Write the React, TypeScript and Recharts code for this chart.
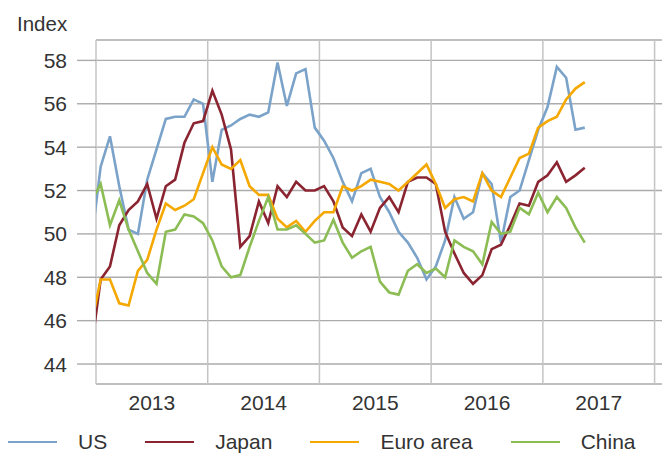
import React from 'react';
import { LineChart, Line, XAxis, YAxis, CartesianGrid, ReferenceLine, Legend } from 'recharts';

const FONT = '"Liberation Sans", Arial, sans-serif';
const TEXT = '#333333';

// Monthly observations, Dec 2012 ... May 2017
const START_YEAR = 2012;
const START_MONTH = 12;

const us = [49.6, 53.1, 54.5, 52.2, 50.2, 50.0, 52.5, 53.9, 55.3, 55.4, 55.4, 56.2, 56.0, 52.4, 54.8, 55.0, 55.3, 55.5, 55.4, 55.6, 57.9, 55.9, 57.4, 57.6, 54.9, 54.3, 53.5, 52.4, 51.5, 52.8, 53.0, 51.7, 51.0, 50.1, 49.6, 48.9, 47.9, 48.5, 49.7, 51.7, 50.7, 51.0, 52.8, 52.3, 49.6, 51.7, 52.0, 53.4, 54.8, 55.85, 57.7, 57.2, 54.8, 54.9];
const japan = [44.7, 47.9, 48.5, 50.4, 51.1, 51.5, 52.3, 50.7, 52.2, 52.5, 54.2, 55.1, 55.2, 56.6, 55.5, 53.9, 49.4, 49.9, 51.5, 50.5, 52.2, 51.7, 52.4, 52.0, 52.0, 52.2, 51.5, 50.3, 49.9, 50.9, 50.1, 51.2, 51.7, 51.0, 52.4, 52.6, 52.6, 52.3, 50.1, 49.1, 48.2, 47.7, 48.1, 49.3, 49.5, 50.4, 51.4, 51.3, 52.4, 52.7, 53.3, 52.4, 52.7, 53.05];
const euroArea = [45.8, 47.9, 47.9, 46.8, 46.7, 48.3, 48.8, 50.2, 51.4, 51.1, 51.3, 51.6, 52.8, 54.0, 53.2, 53.0, 53.4, 52.2, 51.8, 51.8, 50.7, 50.3, 50.6, 50.1, 50.6, 51.0, 51.0, 52.2, 52.0, 52.2, 52.5, 52.4, 52.3, 52.0, 52.4, 52.8, 53.2, 52.3, 51.2, 51.6, 51.7, 51.5, 52.8, 52.0, 51.7, 52.6, 53.5, 53.7, 54.9, 55.2, 55.4, 56.2, 56.7, 57.0];
const china = [51.5, 52.3, 50.4, 51.55, 50.2, 49.2, 48.2, 47.7, 50.1, 50.2, 50.9, 50.8, 50.5, 49.7, 48.5, 48.0, 48.1, 49.4, 50.6, 51.7, 50.2, 50.2, 50.4, 50.0, 49.6, 49.7, 50.65, 49.6, 48.9, 49.2, 49.4, 47.8, 47.3, 47.2, 48.3, 48.6, 48.2, 48.4, 48.0, 49.7, 49.4, 49.2, 48.6, 50.55, 50.0, 50.1, 51.2, 50.9, 51.9, 51.0, 51.7, 51.2, 50.3, 49.6];

const yearLabels = [2013, 2014, 2015, 2016, 2017];
const yearBoundaries = [2013, 2014, 2015, 2016, 2017, 2018];
const yTicks = [44, 46, 48, 50, 52, 54, 56, 58];

const seriesList = [
  { key: 'us', name: 'US', color: '#7ba3c9', values: us },
  { key: 'japan', name: 'Japan', color: '#8b2431', values: japan },
  { key: 'euro', name: 'Euro area', color: '#f5a800', values: euroArea },
  { key: 'china', name: 'China', color: '#8cbd55', values: china },
];

const data = us.map((_, i) => {
  const total = START_YEAR * 12 + (START_MONTH - 1) + i;
  const year = Math.floor(total / 12);
  const month = (total % 12) + 1;
  const row: Record<string, number | string> = {
    month: `${year}-${String(month).padStart(2, '0')}`,
    t: year + (month - 0.5) / 12,
  };
  seriesList.forEach((s) => {
    row[s.key] = s.values[i];
  });
  return row;
});

const renderLegend = () => (
  <div
    style={{
      display: 'flex',
      alignItems: 'center',
      height: 26,
      width: 662,
      fontFamily: FONT,
      fontSize: 21,
      color: TEXT,
      whiteSpace: 'nowrap',
    }}
  >
    {seriesList.map((s) => (
      <div key={s.key} style={{ display: 'flex', alignItems: 'center', marginRight: 38, flex: 'none' }}>
        <span
          style={{ display: 'inline-block', width: 49, height: 0, borderTop: `2.5px solid ${s.color}`, marginRight: 21 }}
        />
        <span>{s.name}</span>
      </div>
    ))}
  </div>
);

const IndexLabel = (props: any) => {
  const vb = props.viewBox || { x: 0, y: 32 };
  return (
    <text x={vb.x + 9} y={vb.y - 9} fill={TEXT} fontSize={20.5} fontFamily={FONT}>
      Index
    </text>
  );
};

export default function App() {
  return (
    <LineChart width={662} height={445} data={data} margin={{ top: 32, right: 0, bottom: 0, left: 0 }}>
      <CartesianGrid vertical={false} stroke="#ababab" strokeWidth={1.4} />
      {yearBoundaries.map((y) => (
        <ReferenceLine key={y} x={y} stroke="#c4c4c4" strokeWidth={1.5} />
      ))}
      <XAxis
        dataKey="t"
        type="number"
        domain={[2013, 2018.138]}
        allowDataOverflow
        ticks={yearLabels.map((y) => y + 0.5)}
        tickFormatter={(v: number) => String(Math.floor(v))}
        axisLine={false}
        tickLine={false}
        tickSize={0}
        tickMargin={11}
        height={43}
        tick={{ fill: TEXT, fontSize: 21, fontFamily: FONT }}
      />
      <YAxis
        type="number"
        domain={[43.08, 58.94]}
        allowDataOverflow
        ticks={yTicks}
        width={88}
        axisLine={false}
        tickLine={{ stroke: '#ababab', strokeWidth: 1.4 }}
        tickSize={19}
        tickMargin={10}
        tick={{ fill: TEXT, fontSize: 21, fontFamily: FONT }}
        label={{ content: IndexLabel }}
      />
      <Legend content={renderLegend} wrapperStyle={{ left: 0, top: 421, width: 662 }} />
      {seriesList.map((s) => (
        <Line
          key={s.key}
          dataKey={s.key}
          name={s.name}
          stroke={s.color}
          strokeWidth={2.6}
          dot={false}
          activeDot={false}
          type="linear"
          isAnimationActive={false}
        />
      ))}
    </LineChart>
  );
}
